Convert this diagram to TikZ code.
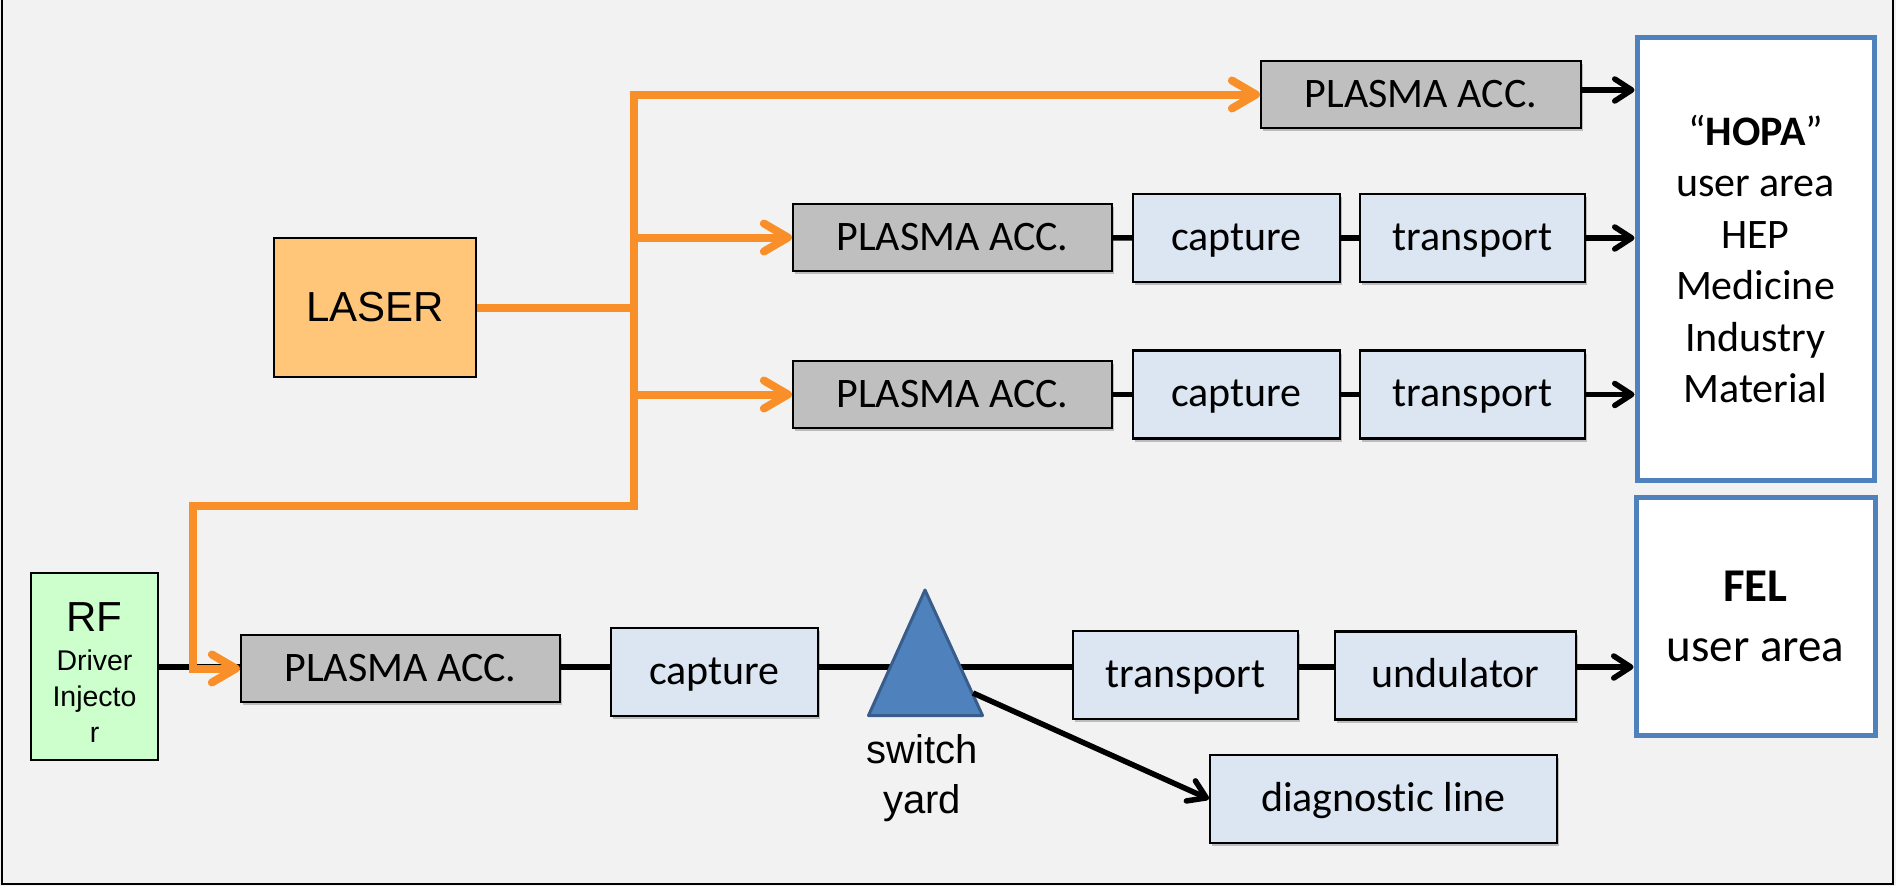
\documentclass[tikz,border=0pt]{standalone}
\usepackage{fontspec}
\setmainfont{Carlito}[Ligatures={TeX,NoCommon}]
\newfontfamily\arialfont{Liberation Sans}
\usetikzlibrary{arrows.meta,shadows}
\definecolor{bg}{HTML}{F2F2F2}
\definecolor{orng}{RGB}{248,143,40}
\definecolor{laserfill}{HTML}{FFC679}
\definecolor{rffill}{HTML}{CCFFCC}
\definecolor{plasmafill}{HTML}{BFBFBF}
\definecolor{bluefill}{HTML}{DCE6F2}
\definecolor{userblue}{HTML}{4F81BD}
\definecolor{tridark}{HTML}{385D8A}
\begin{document}
\begin{tikzpicture}[x=1pt,y=-1pt,
  box/.style={draw=black, line width=2.2pt, inner sep=0pt, align=center, font=\fontsize{42}{50}\selectfont},
  shbox/.style={box, drop shadow={shadow xshift=2pt, shadow yshift=-3pt, opacity=0.22, fill=black}},
  plasma/.style={shbox, fill=plasmafill, minimum width=319pt, minimum height=67pt},
  bluebox/.style={shbox, fill=bluefill, minimum height=88pt, text height=31.5pt, text depth=7.5pt},
  userbox/.style={draw=userblue, line width=5pt, fill=white, inner sep=0pt, align=center},
  bline/.style={line width=5.5pt, black},
  barrow/.style={bline, -{Straight Barb[length=17pt,width=22pt,round]}},
  oarrow/.style={line width=8pt, orng, -{Straight Barb[length=24pt,width=28pt,round]}},
  oline/.style={line width=8pt, orng},
]
\fill[bg] (0,0) rectangle (1896,886);
\useasboundingbox (0,0) rectangle (1896,886);
\draw[line width=2.5pt] (2,-10) -- (2,884) -- (1893,884) -- (1893,-10);

% nodes
\node[box, fill=laserfill, minimum width=202pt, minimum height=139pt,
      font=\arialfont\fontsize{42}{50}\selectfont] (laser) at (375,307.5) {LASER};
\node[box, fill=rffill, minimum width=127pt, minimum height=187pt,
      font=\arialfont\fontsize{28.5}{36}\selectfont]
      (rf) at (94.5,666.5) {{\fontsize{42}{46}\selectfont\rule{0pt}{40pt}RF}\\[3pt]Driver\\Injecto\\r};

\node[plasma, minimum width=320pt] (pa0) at (1421,94.5) {PLASMA ACC.};
\node[plasma] (pa1) at (952.5,237.5) {PLASMA ACC.};
\node[bluebox, minimum width=207pt] (cap1) at (1236.5,238) {capture};
\node[bluebox, minimum width=225pt] (tr1) at (1472.5,238) {transport};
\node[plasma] (pa2) at (952.5,394.5) {PLASMA ACC.};
\node[bluebox, minimum width=207pt] (cap2) at (1236.5,394.5) {capture};
\node[bluebox, minimum width=225pt] (tr2) at (1472.5,394.5) {transport};

\node[plasma] (pa3) at (400.5,668.5) {PLASMA ACC.};
\node[bluebox, minimum width=207pt] (cap3) at (714.5,672) {capture};
\node[bluebox, minimum width=225pt] (tr3) at (1185.5,675) {transport};
\node[bluebox, minimum width=241pt] (und) at (1455.5,675.5) {undulator};
\node[bluebox, minimum width=347pt] (diag) at (1383.5,799) {diagnostic line};

\node[userbox, minimum width=237pt, minimum height=443pt, font=\fontsize{42}{51.5}\selectfont]
      (hopa) at (1755.5,259) {``\textbf{HOPA}''\\user area\\HEP\\Medicine\\Industry\\Material};
\node[userbox, minimum width=239pt, minimum height=238pt, font=\fontsize{47}{60}\selectfont]
      (fel) at (1755.5,616) {\textbf{FEL}\\user area};

\node[font=\arialfont\fontsize{40}{50}\selectfont, align=center, inner sep=0pt]
      (swl) at (922,778) {switch\\yard};

% black connectors
\coordinate (axis3) at (0,667);
\draw[bline] (rf.east |- axis3) -- (pa3.west |- axis3);
\draw[bline] (pa3.east |- axis3) -- (cap3.west |- axis3);
\draw[bline] (cap3.east |- axis3) -- (tr3.west |- axis3);
\draw[bline] (tr3.east |- axis3) -- (und.west |- axis3);
\draw[barrow] (und.east |- axis3) -- (fel.west |- axis3);

\draw[barrow] ([yshift=4.5pt]pa0.east) -- ([yshift=4.5pt]pa0.east -| hopa.west);
\draw[bline] (pa1) -- (cap1);
\draw[bline] (cap1) -- (tr1);
\draw[barrow] (tr1.east) -- (tr1.east -| hopa.west);
\draw[bline] (pa2) -- (cap2);
\draw[bline] (cap2) -- (tr2);
\draw[barrow] (tr2.east) -- (tr2.east -| hopa.west);

% orange laser distribution
\coordinate (ttop) at (634,94.5);
\coordinate (tbot) at (634,506);
\coordinate (tl) at (193,506);
\draw[oline] (laser.east) -- (laser.east -| ttop);
\draw[oarrow, line cap=rect] (ttop) -- (tbot) -- (tl) |- (pa3.west);
\draw[oarrow] (ttop) -- (pa0.west);
\draw[oarrow] (ttop |- pa1.west) -- (pa1.west);
\draw[oarrow] (ttop |- pa2.west) -- (pa2.west);

% switch yard triangle
\draw[fill=userblue, draw=tridark, line width=3pt, line join=round]
  (925,590) -- (982.5,715.5) -- (868.5,715.5) -- cycle;
\coordinate (syr) at (973,693);
\draw[barrow] (syr) -- (diag.west);
\end{tikzpicture}
\end{document}
